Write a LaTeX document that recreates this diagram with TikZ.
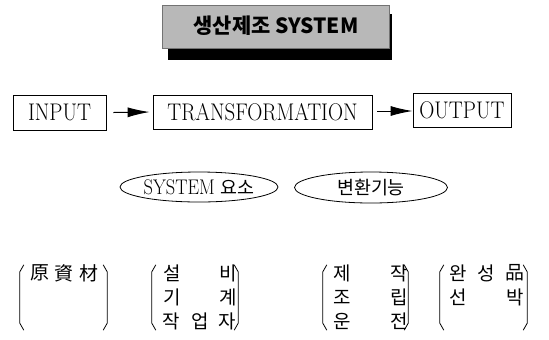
\documentclass[tikz,border=0pt]{standalone}
\usepackage{fontspec}
\usetikzlibrary{arrows.meta,shapes.geometric}
\newfontfamily\kor{Noto Sans CJK KR}
% tall, narrow setting of the Latin labels
\newcommand\tallword[1]{\scalebox{1}[1.15]{#1}}

\tikzset{
  px/.style={x=1bp,y=-1bp},
  box/.style={draw,line width=0.8bp,inner sep=0pt,font=\fontsize{21}{23}\selectfont},
  arr/.style={line width=1bp,-{Latex[length=22bp,width=10bp]}},
  oval/.style={draw,ellipse,line width=0.8bp,inner sep=0pt,font=\fontsize{18.5}{20}\selectfont},
  ch/.style={inner sep=0pt,font=\kor\fontsize{19}{20}\selectfont},
  grp/.style={inner sep=0pt,minimum width=#1,minimum height=65bp},
  paren/.style={line width=0.8bp},
}

\begin{document}
\begin{tikzpicture}[px]
\useasboundingbox (0,0) rectangle (549,339);

% title plate with its shadow
\fill[black] (168,14) rectangle (392,60);
\fill[black!28,draw=black!55,line width=0.6bp] (162,5) rectangle (389,48);
\node[inner sep=0pt,font=\kor\bfseries\fontsize{21}{22}\selectfont] (title) at (276,26) {생산제조 SYSTEM};

% process chain
\node[box,minimum width=93bp,minimum height=35bp] (in) at (59.5,112.5) {\tallword{INPUT}};
\node[box,minimum width=219bp,minimum height=34bp] (tr) at (262.5,112) {\tallword{TRANSFORMATION}};
\node[box,minimum width=98bp,minimum height=34bp] (out) at (462,110) {\tallword{OUTPUT}};
\draw[arr] ([xshift=7bp]in.east) -- ([xshift=-3bp]tr.west);
\draw[arr] ([xshift=5bp,yshift=1bp]tr.east) -- ([yshift=1bp]tr.east -| out.west);

% the two headings
\node[oval,minimum width=158bp,minimum height=30bp] (sys) at (199,187) {\tallword{SYSTEM} {\kor 요소}};
\node[oval,minimum width=153bp,minimum height=31bp] (fn) at (371,187.5) {\kor 변환기능};

% bracketed groups
\node[grp=87bp] (g1) at (63.5,297.5) {};
\node[grp=86bp] (g2) at (195,297.5) {};
\node[grp=85bp] (g3) at (365.5,297.5) {};
\node[grp=87bp] (g4) at (483.5,297.5) {};
\foreach \g in {g1,g2,g3,g4}{
  \draw[paren] ([xshift=4bp]\g.north west) -- ([yshift=-7bp]\g.north west)
     -- ([yshift=7bp]\g.south west) -- ([xshift=4bp]\g.south west);
  \draw[paren] ([xshift=-4bp]\g.north east) -- ([yshift=-7bp]\g.north east)
     -- ([yshift=7bp]\g.south east) -- ([xshift=-4bp]\g.south east);
}

% group texts
\node[ch] (a1) at (40,273) {原};
\node[ch] (a2) at (64,273) {資};
\node[ch] (a3) at (89,273) {材};

\node[ch] (b1) at (172,273) {설};
\node[ch] (b2) at (228,273) {비};
\node[ch] (b3) at (172,297) {기};
\node[ch] (b4) at (228,297) {계};
\node[ch] (b5) at (171,321) {작};
\node[ch] (b6) at (200,321) {업};
\node[ch] (b7) at (227,321) {자};

\node[ch] (c1) at (342,273) {제};
\node[ch] (c2) at (399,273) {작};
\node[ch] (c3) at (342,297) {조};
\node[ch] (c4) at (399,297) {립};
\node[ch] (c5) at (342,321) {운};
\node[ch] (c6) at (399,321) {전};

\node[ch] (d1) at (458,273) {완};
\node[ch] (d2) at (486,273) {성};
\node[ch] (d3) at (515,273) {品};
\node[ch] (d4) at (458,297) {선};
\node[ch] (d5) at (515,297) {박};
\end{tikzpicture}
\end{document}
